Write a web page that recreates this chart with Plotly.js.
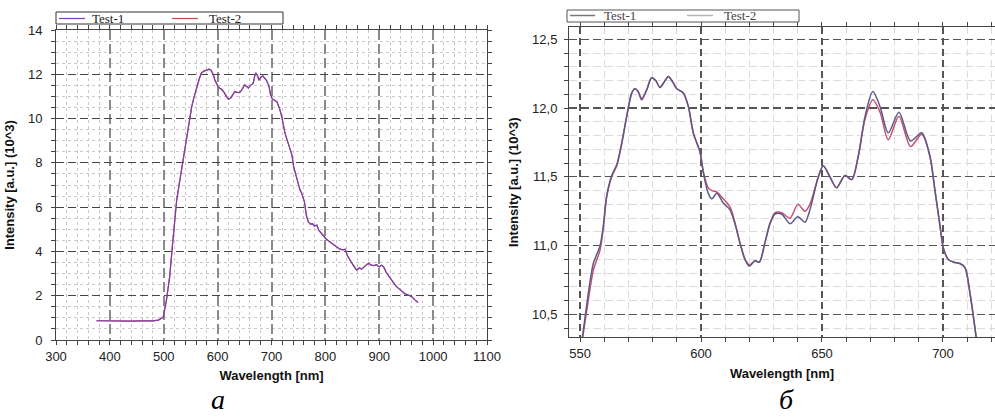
<!DOCTYPE html>
<html>
<head>
<meta charset="utf-8">
<script src="https://cdn.plot.ly/plotly-3.0.1.min.js"></script>
<style>html,body{margin:0;padding:0;background:#fff}#chart{width:995px;height:419px}</style>
</head>
<body>
<div id="chart"></div>
<script>
// ---- Panel a: full spectrum ----
const wlA1 = [375,390,410,425,440,460,480,490,499,505,511,517,524,533,539,545,552,556,561,566,570,575,580,584,588,592,595,600,604,608,612,616,620,624,628,632,636,641,645,650,654,657,661,666,669,671,674,677,680,684,688,691,695,698,701,706,710,715,719,725,729,734,738,741,747,753,756,761,765,768,772,776,780,784,788,793,797,802,808,815,821,827,833,837,841,846,851,858,863,867,872,876,880,885,890,895,900,904,908,913,920,926,932,940,948,955,960,966,972];
const intA1 = [0.87,0.86,0.85,0.86,0.85,0.86,0.86,0.90,1.03,1.80,2.86,4.50,6.32,7.68,8.58,9.63,10.54,10.95,11.44,11.80,12.07,12.15,12.19,12.22,12.18,11.98,11.74,11.50,11.37,11.30,11.18,11.00,10.87,10.92,11.05,11.21,11.18,11.17,11.30,11.52,11.45,11.37,11.50,11.59,11.95,12.07,11.95,11.74,11.88,11.92,11.80,11.71,11.50,11.10,10.90,10.82,10.76,10.45,10.09,9.34,9.00,8.58,8.35,7.83,7.23,6.77,6.63,6.25,5.60,5.35,5.22,5.25,5.15,5.19,4.95,4.80,4.67,4.55,4.44,4.32,4.21,4.10,4.07,4.10,3.80,3.58,3.40,3.16,3.25,3.20,3.30,3.40,3.46,3.38,3.36,3.40,3.30,3.38,3.31,3.05,2.79,2.60,2.41,2.25,2.08,2.02,1.96,1.81,1.69];
const intA2 = [0.87,0.86,0.84,0.86,0.85,0.86,0.86,0.90,1.03,1.80,2.86,4.50,6.32,7.68,8.58,9.63,10.56,10.95,11.44,11.80,12.07,12.17,12.19,12.24,12.18,11.98,11.72,11.48,11.37,11.32,11.18,11.00,10.88,10.92,11.05,11.23,11.18,11.19,11.30,11.52,11.45,11.39,11.50,11.59,11.93,12.05,11.93,11.72,11.86,11.92,11.80,11.71,11.50,11.10,10.90,10.82,10.76,10.45,10.09,9.34,9.00,8.58,8.35,7.83,7.23,6.77,6.63,6.25,5.60,5.35,5.24,5.25,5.15,5.19,4.95,4.80,4.67,4.55,4.44,4.32,4.21,4.10,4.07,4.10,3.80,3.58,3.40,3.16,3.25,3.20,3.30,3.40,3.48,3.38,3.36,3.40,3.30,3.38,3.31,3.05,2.79,2.60,2.41,2.25,2.08,2.02,1.96,1.81,1.69];

// ---- Panel б: zoomed region ----
const wlB = [550,551,553.4,555.5,558.3,559.6,561,563.1,565.2,567.2,569.3,571.4,572.7,574,575.5,577.5,579.6,581.3,583,584.8,586.5,588.3,590,592.7,594.8,596.8,599.6,601,603,604.5,606.5,609.2,612,614,616.1,618.2,620,622.3,624.1,626.4,628.5,630.6,633.3,636.8,640,643,645,648.5,650.5,653.3,656,659.5,662.3,665,667.8,671,674,677.4,681.8,686.6,691.2,694.6,696.7,698.8,700.2,702.2,704.5,707,709.1,711.2,713.9];
const intB1 = [10.25,10.34,10.65,10.87,11.00,11.14,11.36,11.51,11.59,11.74,11.94,12.11,12.14,12.12,12.06,12.13,12.22,12.20,12.15,12.19,12.23,12.19,12.14,12.11,12.01,11.82,11.68,11.53,11.38,11.34,11.38,11.31,11.26,11.16,11.02,10.90,10.85,10.89,10.88,11.02,11.16,11.23,11.23,11.16,11.21,11.17,11.26,11.50,11.58,11.50,11.42,11.51,11.48,11.65,11.94,12.12,12.01,11.82,11.97,11.76,11.82,11.65,11.40,11.14,10.98,10.90,10.88,10.87,10.84,10.65,10.31];
const intB2 = [10.22,10.32,10.60,10.82,10.97,11.12,11.35,11.50,11.58,11.74,11.94,12.11,12.14,12.12,12.07,12.13,12.22,12.20,12.15,12.19,12.23,12.19,12.14,12.11,12.01,11.82,11.68,11.53,11.42,11.40,11.39,11.34,11.28,11.17,11.02,10.90,10.86,10.89,10.88,11.02,11.16,11.24,11.24,11.20,11.30,11.25,11.30,11.50,11.58,11.50,11.42,11.51,11.48,11.65,11.92,12.06,11.97,11.77,11.94,11.72,11.81,11.65,11.40,11.14,10.98,10.90,10.88,10.87,10.84,10.65,10.31];

const seriesNames = ['Test-1', 'Test-2'];
const xTitle = 'Wavelength [nm]';
const yTitle = 'Intensity [a.u.] (10^3)';
const captions = ['а', 'б'];

const W = 995, H = 419;
const px = v => v / W, py = v => 1 - v / H;
const sans = 'Liberation Sans, Arial, sans-serif';
const serif = 'Liberation Serif, Times New Roman, serif';

const traces = [
  {x: wlA1, y: intA2, xaxis: 'x', yaxis: 'y', mode: 'lines', name: seriesNames[1], line: {color: '#c0504d', width: 1.2}, showlegend: false},
  {x: wlA1, y: intA1, xaxis: 'x', yaxis: 'y', mode: 'lines', name: seriesNames[0], line: {color: '#7b3fae', width: 1.2}, showlegend: false},
  {x: wlB, y: intB2, xaxis: 'x2', yaxis: 'y2', mode: 'lines', name: seriesNames[1], line: {color: '#c8506e', width: 1.5, shape: 'spline', smoothing: 0.8}, showlegend: false},
  {x: wlB, y: intB1, xaxis: 'x2', yaxis: 'y2', mode: 'lines', name: seriesNames[0], line: {color: '#5c5a88', width: 1.5, shape: 'spline', smoothing: 0.8}, showlegend: false}
];

const tickFont = {family: sans, size: 13, color: '#222'};
const titleFont = {family: sans, size: 13, color: '#111', weight: 'bold'};

function axisCommon() {
  return {showline: true, linecolor: '#444', linewidth: 1, mirror: 'ticks', ticks: 'outside', ticklen: 4, tickcolor: '#444', tickfont: tickFont, zeroline: false, automargin: false, fixedrange: true};
}

const layout = {
  width: W, height: H,
  margin: {l: 0, r: 0, t: 0, b: 0},
  paper_bgcolor: '#fff', plot_bgcolor: '#fff',
  separators: ', ',
  showlegend: false,
  xaxis: Object.assign(axisCommon(), {
    domain: [px(56), px(487)], anchor: 'y', range: [300, 1100], dtick: 100, tick0: 300,
    showgrid: true, gridcolor: '#8a8a8a', gridwidth: 2, griddash: '10px,4px',
    minor: {dtick: 20, showgrid: true, gridcolor: '#c8c8c8', griddash: 'dot', gridwidth: 1, ticks: 'outside', ticklen: 4, tickcolor: '#444'},
    title: {text: xTitle, font: titleFont, standoff: 8}
  }),
  yaxis: Object.assign(axisCommon(), {
    domain: [py(340), py(30)], anchor: 'x', range: [0, 14], dtick: 2,
    showgrid: true, gridcolor: '#444', gridwidth: 1.2, griddash: '8px,4px',
    minor: {dtick: 0.5, showgrid: true, gridcolor: '#c8c8c8', griddash: 'dot', gridwidth: 1, ticks: 'outside', ticklen: 4, tickcolor: '#444'},
    ticklabelstandoff: 6,
    title: {text: yTitle, font: titleFont, standoff: 10}
  }),
  xaxis2: Object.assign(axisCommon(), {
    domain: [px(569), 1], anchor: 'y2', range: [545.45, 721.5], dtick: 50, tick0: 550,
    showgrid: true, gridcolor: '#555', gridwidth: 1.2, griddash: '7px,4px',
    minor: {dtick: 10, showgrid: true, gridcolor: '#dcdcdc', gridwidth: 1, ticks: 'outside', ticklen: 4, tickcolor: '#444'},
    title: {text: xTitle, font: titleFont, standoff: 8}
  }),
  yaxis2: Object.assign(axisCommon(), {
    domain: [py(337.3), py(27)], anchor: 'x2', range: [10.334, 12.589], dtick: 0.5, tick0: 10.5, tickformat: '.1f',
    showgrid: true, gridcolor: '#555', gridwidth: 1.2, griddash: '8px,4px',
    minor: {dtick: 0.1, showgrid: true, gridcolor: '#dcdcdc', gridwidth: 1, ticks: 'outside', ticklen: 4, tickcolor: '#444'},
    ticklabelstandoff: 4,
    title: {text: yTitle, font: titleFont, standoff: 10}
  }),
  shapes: [
    {type: 'rect', xref: 'paper', yref: 'paper', x0: px(56), x1: px(283), y0: py(24), y1: py(12), line: {color: '#333', width: 1}, fillcolor: '#fff'},
    {type: 'line', xref: 'paper', yref: 'paper', x0: px(59), x1: px(85), y0: py(18.5), y1: py(18.5), line: {color: '#7b3fae', width: 1.2}},
    {type: 'line', xref: 'paper', yref: 'paper', x0: px(172), x1: px(198), y0: py(18.5), y1: py(18.5), line: {color: '#c0504d', width: 1.2}},
    {type: 'rect', xref: 'paper', yref: 'paper', x0: px(567), x1: px(799), y0: py(22), y1: py(10), line: {color: '#555', width: 1}, fillcolor: '#fff'},
    {type: 'line', xref: 'paper', yref: 'paper', x0: px(570), x1: px(595), y0: py(15.5), y1: py(15.5), line: {color: '#777', width: 1.5}},
    {type: 'line', xref: 'paper', yref: 'paper', x0: px(687), x1: px(713), y0: py(15.5), y1: py(15.5), line: {color: '#b5b5b5', width: 1.5}}
  ],
  annotations: [
    {xref: 'paper', yref: 'paper', x: px(90), y: py(18.5), xanchor: 'left', yanchor: 'middle', text: seriesNames[0], showarrow: false, font: {family: serif, size: 13, color: '#222'}},
    {xref: 'paper', yref: 'paper', x: px(207), y: py(18.5), xanchor: 'left', yanchor: 'middle', text: seriesNames[1], showarrow: false, font: {family: serif, size: 13, color: '#222'}},
    {xref: 'paper', yref: 'paper', x: px(602), y: py(15.5), xanchor: 'left', yanchor: 'middle', text: seriesNames[0], showarrow: false, font: {family: serif, size: 13, color: '#444'}},
    {xref: 'paper', yref: 'paper', x: px(722), y: py(15.5), xanchor: 'left', yanchor: 'middle', text: seriesNames[1], showarrow: false, font: {family: serif, size: 13, color: '#444'}},
    {xref: 'paper', yref: 'paper', x: px(218), y: py(399), xanchor: 'center', yanchor: 'middle', text: '<i>' + captions[0] + '</i>', showarrow: false, font: {family: serif, size: 28, color: '#000'}},
    {xref: 'paper', yref: 'paper', x: px(786), y: py(399), xanchor: 'center', yanchor: 'middle', text: '<i>' + captions[1] + '</i>', showarrow: false, font: {family: serif, size: 28, color: '#000'}}
  ]
};

Plotly.newPlot('chart', traces, layout, {staticPlot: true, displayModeBar: false});
</script>
</body>
</html>
